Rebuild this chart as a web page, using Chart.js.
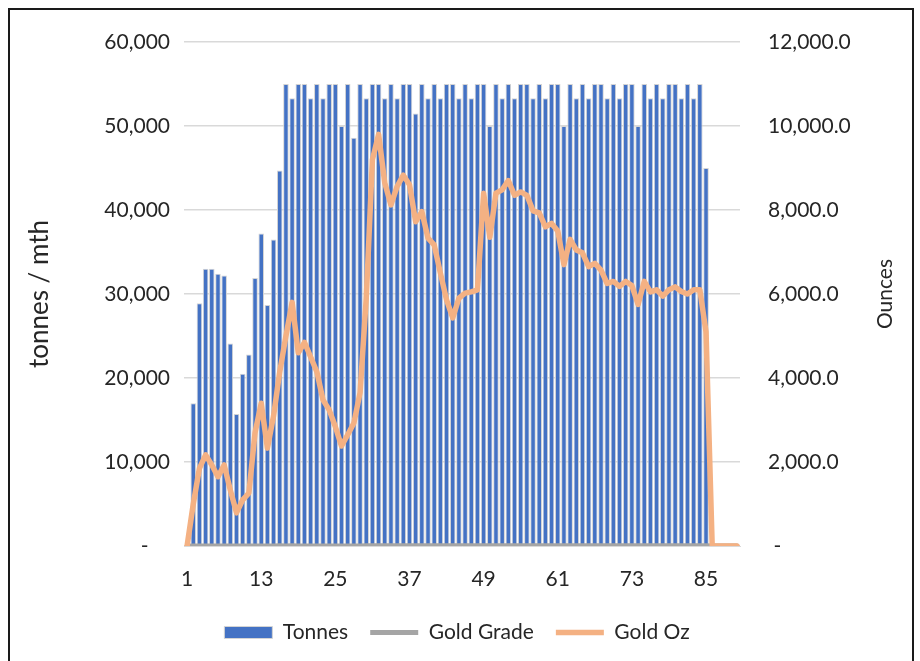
<!DOCTYPE html>
<html lang="en">
<head>
<meta charset="UTF-8">
<title>Tonnes / Gold Oz</title>
<script src="https://cdn.jsdelivr.net/npm/chart.js"></script>
<style>
    body { margin: 0; background: #fff; }
    .wrap { position: relative; width: 920px; height: 661px; }
    .frame { position: absolute; left: 8px; top: 8px; width: 902px; height: 660px; border: 2px solid #1a1a1a; border-bottom: none; pointer-events: none; }
    canvas { position: absolute; left: 0; top: 0; }
</style>
</head>
<body>
<div class="wrap">
    <canvas id="chart" width="920" height="661"></canvas>
    <div class="frame"></div>
</div>
<script>
// month numbers 1..90
const months = [];
for (let m = 1; m <= 90; m++) months.push(String(m));

// tonnes per month (no ore in month 1 and after month 85)
const tonnes = [
    null, 17000, 28900, 33000, 33000, 32400, 32200, 24100, 15700, 20500,
    22800, 31900, 37200, 28700, 36500, 44700, 55000, 53300, 55000, 55000,
    53300, 55000, 53300, 55000, 55000, 50000, 55000, 48600, 55000, 53300,
    55000, 55000, 53300, 55000, 53300, 55000, 55000, 51500, 55000, 53300,
    55000, 53300, 55000, 55000, 53300, 55000, 53300, 55000, 55000, 50000,
    55000, 53300, 55000, 53300, 55000, 55000, 53300, 55000, 53300, 55000,
    55000, 50000, 55000, 53300, 55000, 53300, 55000, 55000, 53300, 55000,
    53300, 55000, 55000, 50000, 55000, 53300, 55000, 53300, 55000, 55000,
    53300, 55000, 53300, 55000, 45000, null, null, null, null, null
];

// gold grade g/t (sits on the floor of the ounces axis)
const goldGrade = [
    0, 1.8, 2.0, 2.1, 1.8, 1.6, 1.9, 1.7, 1.6, 1.7,
    1.7, 2.6, 2.8, 2.5, 2.6, 3.0, 2.8, 3.4, 2.6, 2.7,
    2.6, 2.4, 2.0, 1.9, 1.6, 1.5, 1.5, 1.9, 2.1, 3.4,
    5.2, 5.5, 5.0, 4.6, 5.0, 5.0, 4.9, 4.7, 4.5, 4.3,
    4.1, 3.8, 3.3, 3.1, 3.4, 3.4, 3.5, 3.5, 4.8, 4.6,
    4.8, 5.0, 4.9, 4.9, 4.8, 4.7, 4.7, 4.5, 4.4, 4.3,
    4.2, 4.2, 4.1, 4.1, 4.0, 3.9, 3.8, 3.7, 3.7, 3.6,
    3.6, 3.6, 3.5, 3.6, 3.6, 3.5, 3.5, 3.5, 3.5, 3.5,
    3.5, 3.4, 3.6, 3.5, 3.5, 0, 0, 0, 0, 0
];

// gold ounces per month
const goldOz = [
    0, 1000, 1850, 2170, 1930, 1650, 1930, 1330, 790, 1100,
    1260, 2700, 3400, 2330, 3100, 4150, 5000, 5800, 4600, 4850,
    4500, 4150, 3480, 3240, 2840, 2380, 2650, 2930, 3650, 5900,
    9200, 9800, 8640, 8120, 8560, 8830, 8600, 7720, 7960, 7330,
    7170, 6500, 5860, 5430, 5900, 6020, 6050, 6100, 8400, 7350,
    8400, 8480, 8700, 8350, 8430, 8350, 7980, 7930, 7600, 7680,
    7500, 6700, 7300, 7050, 6980, 6650, 6730, 6570, 6250, 6300,
    6180, 6300, 6200, 5750, 6300, 6050, 6100, 5950, 6100, 6170,
    6060, 6000, 6100, 6100, 5100, 0, 0, 0, 0, 0
];

const FONT = 'Lato, "Liberation Sans", sans-serif';
const TEXT = '#262626';
Chart.defaults.font.family = FONT;
Chart.defaults.font.size = 21;
Chart.defaults.color = TEXT;

// right axis title reads bottom-to-top like the left one
const rightTitle = {
    id: 'rightTitle',
    afterDraw(chart) {
        const ctx = chart.ctx;
        const a = chart.chartArea;
        ctx.save();
        ctx.translate(885, (a.top + a.bottom) / 2);
        ctx.rotate(-Math.PI / 2);
        ctx.font = '21px ' + FONT;
        ctx.fillStyle = TEXT;
        ctx.textAlign = 'center';
        ctx.textBaseline = 'middle';
        ctx.fillText('Ounces', 0, 0);
        ctx.restore();
    }
};

new Chart(document.getElementById('chart'), {
    type: 'bar',
    data: {
        labels: months,
        datasets: [
            {
                label: 'Tonnes',
                data: tonnes,
                yAxisID: 'y',
                backgroundColor: '#4472C4',
                borderColor: '#D4D4D4',
                borderWidth: 1,
                categoryPercentage: 1,
                barPercentage: 0.9,
                pointStyle: 'rect',
                order: 3
            },
            {
                type: 'line',
                label: 'Gold Grade',
                data: goldGrade,
                yAxisID: 'y1',
                borderColor: '#A5A5A5',
                backgroundColor: '#A5A5A5',
                borderWidth: 5,
                borderCapStyle: 'round',
                borderJoinStyle: 'round',
                pointRadius: 0,
                pointStyle: 'line',
                tension: 0,
                order: 2
            },
            {
                type: 'line',
                label: 'Gold Oz',
                data: goldOz,
                yAxisID: 'y1',
                borderColor: '#F4B183',
                backgroundColor: '#F4B183',
                borderWidth: 5.5,
                borderCapStyle: 'round',
                borderJoinStyle: 'round',
                pointRadius: 0,
                pointStyle: 'line',
                tension: 0,
                order: 1
            }
        ]
    },
    options: {
        responsive: false,
        animation: false,
        devicePixelRatio: 1,
        layout: { padding: { top: 42, left: 20, right: 26, bottom: 8 } },
        plugins: {
            tooltip: { enabled: false },
            legend: {
                position: 'bottom',
                labels: {
                    usePointStyle: true,
                    pointStyleWidth: 48,
                    boxHeight: 12,
                    padding: 22,
                    color: TEXT,
                    font: { size: 21 },
                    sort: (a, b) => a.datasetIndex - b.datasetIndex
                }
            }
        },
        scales: {
            x: {
                offset: true,
                grid: { display: false, drawTicks: false },
                border: { display: true, color: '#D9D9D9', width: 1 },
                ticks: {
                    autoSkip: false,
                    maxRotation: 0,
                    padding: 21,
                    callback: function (value, index) {
                        return index % 12 === 0 ? this.getLabelForValue(value) : '';
                    }
                },
                afterFit: s => { s.height = 54; }
            },
            y: {
                position: 'left',
                min: 0,
                max: 60000,
                grid: { color: '#D9D9D9', lineWidth: 1.5, drawTicks: false },
                border: { display: false },
                ticks: {
                    stepSize: 10000,
                    padding: 14,
                    callback: v => v === 0 ? '-    ' : v.toLocaleString('en-US')
                },
                title: {
                    display: true,
                    text: 'tonnes / mth',
                    padding: { top: 4, bottom: 0 },
                    font: { size: 26 }
                },
                afterFit: s => { s.width = 164; }
            },
            y1: {
                position: 'right',
                min: 0,
                max: 12000,
                grid: { display: false, drawTicks: false },
                border: { display: false },
                ticks: {
                    stepSize: 2000,
                    padding: 28,
                    callback: v => v === 0 ? ' -' : v.toLocaleString('en-US', { minimumFractionDigits: 1, maximumFractionDigits: 1 })
                },
                afterFit: s => { s.width = 154; }
            }
        }
    },
    plugins: [rightTitle]
});
</script>
</body>
</html>
